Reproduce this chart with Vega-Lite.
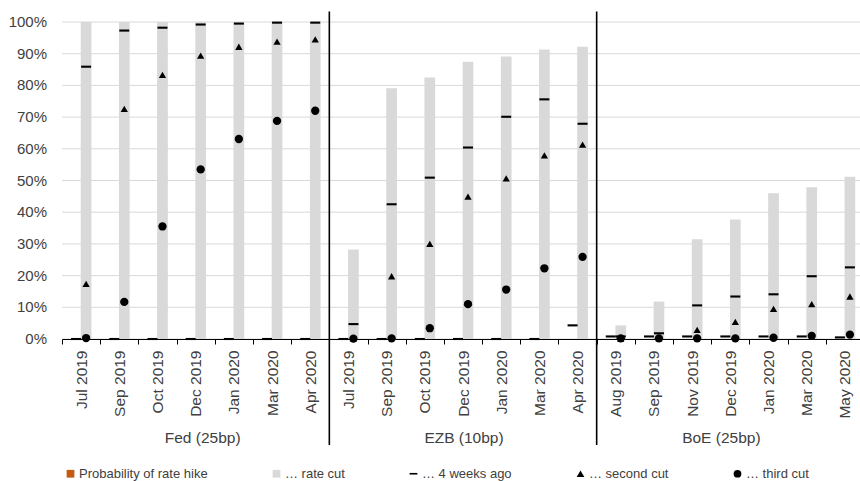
{
  "$schema": "https://vega.github.io/schema/vega-lite/v6.json",
  "autosize": {"type": "none"},
  "padding": {"left": 62, "top": 22, "right": 0, "bottom": 142},
  "width": 802,
  "height": 317,
  "config": {
    "font": "Liberation Sans",
    "view": {"stroke": null},
    "legend": {
      "orient": "none",
      "legendX": 2,
      "legendY": 445,
      "direction": "horizontal",
      "columns": 5,
      "columnPadding": 62,
      "symbolSize": 60,
      "labelFontSize": 13,
      "labelColor": "#404040",
      "labelOffset": 2,
      "symbolStrokeWidth": 0,
      "symbolOpacity": 1,
      "padding": 0
    }
  },
  "datasets": {
    "main": [
      {"k":"Fed|Jul 2019","s":"… rate cut","slot":"cut","v":1},
      {"k":"Fed|Sep 2019","s":"… rate cut","slot":"cut","v":1},
      {"k":"Fed|Oct 2019","s":"… rate cut","slot":"cut","v":1},
      {"k":"Fed|Dec 2019","s":"… rate cut","slot":"cut","v":1},
      {"k":"Fed|Jan 2020","s":"… rate cut","slot":"cut","v":1},
      {"k":"Fed|Mar 2020","s":"… rate cut","slot":"cut","v":1},
      {"k":"Fed|Apr 2020","s":"… rate cut","slot":"cut","v":1},
      {"k":"EZB|Jul 2019","s":"… rate cut","slot":"cut","v":0.282},
      {"k":"EZB|Sep 2019","s":"… rate cut","slot":"cut","v":0.791},
      {"k":"EZB|Oct 2019","s":"… rate cut","slot":"cut","v":0.825},
      {"k":"EZB|Dec 2019","s":"… rate cut","slot":"cut","v":0.875},
      {"k":"EZB|Jan 2020","s":"… rate cut","slot":"cut","v":0.891},
      {"k":"EZB|Mar 2020","s":"… rate cut","slot":"cut","v":0.913},
      {"k":"EZB|Apr 2020","s":"… rate cut","slot":"cut","v":0.922},
      {"k":"BoE|Aug 2019","s":"… rate cut","slot":"cut","v":0.043},
      {"k":"BoE|Sep 2019","s":"… rate cut","slot":"cut","v":0.118},
      {"k":"BoE|Nov 2019","s":"… rate cut","slot":"cut","v":0.315},
      {"k":"BoE|Dec 2019","s":"… rate cut","slot":"cut","v":0.377},
      {"k":"BoE|Jan 2020","s":"… rate cut","slot":"cut","v":0.46},
      {"k":"BoE|Mar 2020","s":"… rate cut","slot":"cut","v":0.479},
      {"k":"BoE|May 2020","s":"… rate cut","slot":"cut","v":0.512},

      {"k":"Fed|Jul 2019","s":"… 4 weeks ago","slot":"hike","v":0},
      {"k":"Fed|Sep 2019","s":"… 4 weeks ago","slot":"hike","v":0},
      {"k":"Fed|Oct 2019","s":"… 4 weeks ago","slot":"hike","v":0},
      {"k":"Fed|Dec 2019","s":"… 4 weeks ago","slot":"hike","v":0},
      {"k":"Fed|Jan 2020","s":"… 4 weeks ago","slot":"hike","v":0},
      {"k":"Fed|Mar 2020","s":"… 4 weeks ago","slot":"hike","v":0},
      {"k":"Fed|Apr 2020","s":"… 4 weeks ago","slot":"hike","v":0},
      {"k":"EZB|Jul 2019","s":"… 4 weeks ago","slot":"hike","v":0},
      {"k":"EZB|Sep 2019","s":"… 4 weeks ago","slot":"hike","v":0},
      {"k":"EZB|Oct 2019","s":"… 4 weeks ago","slot":"hike","v":0},
      {"k":"EZB|Dec 2019","s":"… 4 weeks ago","slot":"hike","v":0},
      {"k":"EZB|Jan 2020","s":"… 4 weeks ago","slot":"hike","v":0},
      {"k":"EZB|Mar 2020","s":"… 4 weeks ago","slot":"hike","v":0},
      {"k":"EZB|Apr 2020","s":"… 4 weeks ago","slot":"hike","v":0.043},
      {"k":"BoE|Aug 2019","s":"… 4 weeks ago","slot":"hike","v":0.008},
      {"k":"BoE|Sep 2019","s":"… 4 weeks ago","slot":"hike","v":0.008},
      {"k":"BoE|Nov 2019","s":"… 4 weeks ago","slot":"hike","v":0.008},
      {"k":"BoE|Dec 2019","s":"… 4 weeks ago","slot":"hike","v":0.008},
      {"k":"BoE|Jan 2020","s":"… 4 weeks ago","slot":"hike","v":0.008},
      {"k":"BoE|Mar 2020","s":"… 4 weeks ago","slot":"hike","v":0.008},
      {"k":"BoE|May 2020","s":"… 4 weeks ago","slot":"hike","v":0.005},

      {"k":"Fed|Jul 2019","s":"… 4 weeks ago","slot":"cut","v":0.859},
      {"k":"Fed|Sep 2019","s":"… 4 weeks ago","slot":"cut","v":0.973},
      {"k":"Fed|Oct 2019","s":"… 4 weeks ago","slot":"cut","v":0.982},
      {"k":"Fed|Dec 2019","s":"… 4 weeks ago","slot":"cut","v":0.992},
      {"k":"Fed|Jan 2020","s":"… 4 weeks ago","slot":"cut","v":0.995},
      {"k":"Fed|Mar 2020","s":"… 4 weeks ago","slot":"cut","v":0.998},
      {"k":"Fed|Apr 2020","s":"… 4 weeks ago","slot":"cut","v":0.998},
      {"k":"EZB|Jul 2019","s":"… 4 weeks ago","slot":"cut","v":0.047},
      {"k":"EZB|Sep 2019","s":"… 4 weeks ago","slot":"cut","v":0.425},
      {"k":"EZB|Oct 2019","s":"… 4 weeks ago","slot":"cut","v":0.509},
      {"k":"EZB|Dec 2019","s":"… 4 weeks ago","slot":"cut","v":0.604},
      {"k":"EZB|Jan 2020","s":"… 4 weeks ago","slot":"cut","v":0.701},
      {"k":"EZB|Mar 2020","s":"… 4 weeks ago","slot":"cut","v":0.756},
      {"k":"EZB|Apr 2020","s":"… 4 weeks ago","slot":"cut","v":0.679},
      {"k":"BoE|Aug 2019","s":"… 4 weeks ago","slot":"cut","v":0.008},
      {"k":"BoE|Sep 2019","s":"… 4 weeks ago","slot":"cut","v":0.018},
      {"k":"BoE|Nov 2019","s":"… 4 weeks ago","slot":"cut","v":0.106},
      {"k":"BoE|Dec 2019","s":"… 4 weeks ago","slot":"cut","v":0.134},
      {"k":"BoE|Jan 2020","s":"… 4 weeks ago","slot":"cut","v":0.141},
      {"k":"BoE|Mar 2020","s":"… 4 weeks ago","slot":"cut","v":0.198},
      {"k":"BoE|May 2020","s":"… 4 weeks ago","slot":"cut","v":0.226},

      {"k":"Fed|Jul 2019","s":"… second cut","slot":"cut","v":0.174},
      {"k":"Fed|Sep 2019","s":"… second cut","slot":"cut","v":0.726},
      {"k":"Fed|Oct 2019","s":"… second cut","slot":"cut","v":0.833},
      {"k":"Fed|Dec 2019","s":"… second cut","slot":"cut","v":0.894},
      {"k":"Fed|Jan 2020","s":"… second cut","slot":"cut","v":0.922},
      {"k":"Fed|Mar 2020","s":"… second cut","slot":"cut","v":0.938},
      {"k":"Fed|Apr 2020","s":"… second cut","slot":"cut","v":0.945},
      {"k":"EZB|Jul 2019","s":"… second cut","slot":"cut","v":0.002},
      {"k":"EZB|Sep 2019","s":"… second cut","slot":"cut","v":0.198},
      {"k":"EZB|Oct 2019","s":"… second cut","slot":"cut","v":0.3},
      {"k":"EZB|Dec 2019","s":"… second cut","slot":"cut","v":0.449},
      {"k":"EZB|Jan 2020","s":"… second cut","slot":"cut","v":0.507},
      {"k":"EZB|Mar 2020","s":"… second cut","slot":"cut","v":0.579},
      {"k":"EZB|Apr 2020","s":"… second cut","slot":"cut","v":0.613},
      {"k":"BoE|Aug 2019","s":"… second cut","slot":"cut","v":0.001},
      {"k":"BoE|Sep 2019","s":"… second cut","slot":"cut","v":0.003},
      {"k":"BoE|Nov 2019","s":"… second cut","slot":"cut","v":0.029},
      {"k":"BoE|Dec 2019","s":"… second cut","slot":"cut","v":0.054},
      {"k":"BoE|Jan 2020","s":"… second cut","slot":"cut","v":0.095},
      {"k":"BoE|Mar 2020","s":"… second cut","slot":"cut","v":0.11},
      {"k":"BoE|May 2020","s":"… second cut","slot":"cut","v":0.134},

      {"k":"Fed|Jul 2019","s":"… third cut","slot":"cut","v":0.003},
      {"k":"Fed|Sep 2019","s":"… third cut","slot":"cut","v":0.117},
      {"k":"Fed|Oct 2019","s":"… third cut","slot":"cut","v":0.355},
      {"k":"Fed|Dec 2019","s":"… third cut","slot":"cut","v":0.535},
      {"k":"Fed|Jan 2020","s":"… third cut","slot":"cut","v":0.631},
      {"k":"Fed|Mar 2020","s":"… third cut","slot":"cut","v":0.688},
      {"k":"Fed|Apr 2020","s":"… third cut","slot":"cut","v":0.72},
      {"k":"EZB|Jul 2019","s":"… third cut","slot":"cut","v":0.001},
      {"k":"EZB|Sep 2019","s":"… third cut","slot":"cut","v":0.002},
      {"k":"EZB|Oct 2019","s":"… third cut","slot":"cut","v":0.034},
      {"k":"EZB|Dec 2019","s":"… third cut","slot":"cut","v":0.11},
      {"k":"EZB|Jan 2020","s":"… third cut","slot":"cut","v":0.156},
      {"k":"EZB|Mar 2020","s":"… third cut","slot":"cut","v":0.223},
      {"k":"EZB|Apr 2020","s":"… third cut","slot":"cut","v":0.259},
      {"k":"BoE|Aug 2019","s":"… third cut","slot":"cut","v":0.002},
      {"k":"BoE|Sep 2019","s":"… third cut","slot":"cut","v":0.002},
      {"k":"BoE|Nov 2019","s":"… third cut","slot":"cut","v":0.002},
      {"k":"BoE|Dec 2019","s":"… third cut","slot":"cut","v":0.002},
      {"k":"BoE|Jan 2020","s":"… third cut","slot":"cut","v":0.004},
      {"k":"BoE|Mar 2020","s":"… third cut","slot":"cut","v":0.01},
      {"k":"BoE|May 2020","s":"… third cut","slot":"cut","v":0.014}
    ],
    "separators": [
      {"k":"EZB|Jul 2019"},
      {"k":"BoE|Aug 2019"}
    ],
    "ygrid": [
      {"k":"Fed|Jul 2019","g":0},
      {"k":"Fed|Jul 2019","g":0.1},
      {"k":"Fed|Jul 2019","g":0.2},
      {"k":"Fed|Jul 2019","g":0.3},
      {"k":"Fed|Jul 2019","g":0.4},
      {"k":"Fed|Jul 2019","g":0.5},
      {"k":"Fed|Jul 2019","g":0.6},
      {"k":"Fed|Jul 2019","g":0.7},
      {"k":"Fed|Jul 2019","g":0.8},
      {"k":"Fed|Jul 2019","g":0.9},
      {"k":"Fed|Jul 2019","g":1}
    ]
  },
  "encoding": {
    "x": {
      "field": "k",
      "type": "nominal",
      "scale": {
        "domain": ["Fed|Jul 2019","Fed|Sep 2019","Fed|Oct 2019","Fed|Dec 2019","Fed|Jan 2020","Fed|Mar 2020","Fed|Apr 2020","EZB|Jul 2019","EZB|Sep 2019","EZB|Oct 2019","EZB|Dec 2019","EZB|Jan 2020","EZB|Mar 2020","EZB|Apr 2020","BoE|Aug 2019","BoE|Sep 2019","BoE|Nov 2019","BoE|Dec 2019","BoE|Jan 2020","BoE|Mar 2020","BoE|May 2020"],
        "paddingInner": 0,
        "paddingOuter": 0
      },
      "axis": {
        "title": null,
        "labelExpr": "split(datum.label, '|')[1]",
        "labelAngle": 270,
        "labelAlign": "right",
        "labelBaseline": "middle",
        "labelFontSize": 15.5,
        "labelColor": "#404040",
        "labelPadding": 6,
        "labelOverlap": false,
        "tickBand": "extent",
        "tickSize": 5,
        "tickColor": "#000000",
        "domainColor": "#000000",
        "domainWidth": 1,
        "grid": false,
        "zindex": 1
      }
    }
  },
  "layer": [
    {
      "data": {"name": "ygrid"},
      "mark": {"type": "rule", "color": "#d9d9d9", "strokeWidth": 1},
      "encoding": {
        "x": null,
        "y": {"field": "g", "type": "quantitative", "scale": {"domain": [0, 1]}, "axis": null}
      }
    },
    {
      "data": {"name": "ygrid"},
      "mark": {"type": "text", "align": "right", "baseline": "middle", "dx": -15, "fontSize": 15, "color": "#404040"},
      "encoding": {
        "x": {"field": "k", "type": "nominal", "bandPosition": 0},
        "y": {"field": "g", "type": "quantitative", "axis": null},
        "text": {"field": "g", "type": "quantitative", "format": ".0%"}
      }
    },
    {
      "data": {"name": "main"},
      "transform": [{"filter": "datum.s === '… rate cut'"}],
      "mark": {"type": "bar", "width": 10.7, "color": "#d9d9d9"},
      "encoding": {
        "xOffset": {"field": "slot", "type": "nominal", "scale": {"domain": ["hike","cut"], "paddingInner": 0, "paddingOuter": 0.91}},
        "y": {"field": "v", "type": "quantitative", "scale": {"domain": [0, 1]}, "axis": null}
      }
    },
    {
      "data": {"name": "main"},
      "transform": [{"filter": "datum.s === '… 4 weeks ago'"}],
      "mark": {"type": "point", "filled": true, "opacity": 1, "size": 100, "strokeWidth": 0},
      "encoding": {
        "xOffset": {"field": "slot", "type": "nominal", "scale": {"domain": ["hike","cut"], "paddingInner": 0, "paddingOuter": 0.91}},
        "y": {"field": "v", "type": "quantitative", "axis": null},
        "color": {
          "field": "s",
          "type": "nominal",
          "title": null,
          "scale": {"domain": ["Probability of rate hike","… rate cut","… 4 weeks ago","… second cut","… third cut"], "range": ["#c55a11","#d9d9d9","#000000","#000000","#000000"]}
        },
        "shape": {
          "field": "s",
          "type": "nominal",
          "title": null,
          "scale": {"domain": ["Probability of rate hike","… rate cut","… 4 weeks ago","… second cut","… third cut"], "range": ["square","square","M-1,-0.21H1V0.21H-1Z","triangle-up","circle"]}
        }
      }
    },
    {
      "data": {"name": "main"},
      "transform": [{"filter": "datum.s === '… second cut'"}],
      "mark": {"type": "point", "filled": true, "opacity": 1, "size": 53, "strokeWidth": 0},
      "encoding": {
        "xOffset": {"field": "slot", "type": "nominal", "scale": {"domain": ["hike","cut"], "paddingInner": 0, "paddingOuter": 0.91}},
        "y": {"field": "v", "type": "quantitative", "axis": null},
        "color": {
          "field": "s",
          "type": "nominal",
          "title": null,
          "scale": {"domain": ["Probability of rate hike","… rate cut","… 4 weeks ago","… second cut","… third cut"], "range": ["#c55a11","#d9d9d9","#000000","#000000","#000000"]}
        },
        "shape": {
          "field": "s",
          "type": "nominal",
          "title": null,
          "scale": {"domain": ["Probability of rate hike","… rate cut","… 4 weeks ago","… second cut","… third cut"], "range": ["square","square","M-1,-0.21H1V0.21H-1Z","triangle-up","circle"]}
        }
      }
    },
    {
      "data": {"name": "main"},
      "transform": [{"filter": "datum.s === '… third cut'"}],
      "mark": {"type": "point", "filled": true, "opacity": 1, "size": 69, "strokeWidth": 0},
      "encoding": {
        "xOffset": {"field": "slot", "type": "nominal", "scale": {"domain": ["hike","cut"], "paddingInner": 0, "paddingOuter": 0.91}},
        "y": {"field": "v", "type": "quantitative", "axis": null},
        "color": {
          "field": "s",
          "type": "nominal",
          "title": null,
          "scale": {"domain": ["Probability of rate hike","… rate cut","… 4 weeks ago","… second cut","… third cut"], "range": ["#c55a11","#d9d9d9","#000000","#000000","#000000"]}
        },
        "shape": {
          "field": "s",
          "type": "nominal",
          "title": null,
          "scale": {"domain": ["Probability of rate hike","… rate cut","… 4 weeks ago","… second cut","… third cut"], "range": ["square","square","M-1,-0.21H1V0.21H-1Z","triangle-up","circle"]}
        }
      }
    },
    {
      "data": {"name": "separators"},
      "mark": {"type": "rule", "color": "#000000", "strokeWidth": 1.6},
      "encoding": {
        "x": {"field": "k", "type": "nominal", "bandPosition": 0},
        "y": {"datum": 1.033, "type": "quantitative", "axis": null},
        "y2": {"datum": -0.334}
      }
    },
    {
      "data": {"values": [{"k":"Fed|Dec 2019","label":"Fed (25bp)"}]},
      "mark": {"type": "text", "fontSize": 15.5, "color": "#404040", "baseline": "middle", "align": "center", "dx": 7},
      "encoding": {
        "y": {"datum": -0.311, "type": "quantitative", "axis": null},
        "text": {"field": "label"}
      }
    },
    {
      "data": {"values": [{"k":"EZB|Dec 2019","label":"EZB (10bp)"}]},
      "mark": {"type": "text", "fontSize": 15.5, "color": "#404040", "baseline": "middle", "align": "center", "dx": 1},
      "encoding": {
        "y": {"datum": -0.311, "type": "quantitative", "axis": null},
        "text": {"field": "label"}
      }
    },
    {
      "data": {"values": [{"k":"BoE|Dec 2019","label":"BoE (25bp)"}]},
      "mark": {"type": "text", "fontSize": 15.5, "color": "#404040", "baseline": "middle", "align": "center", "dx": -9},
      "encoding": {
        "y": {"datum": -0.311, "type": "quantitative", "axis": null},
        "text": {"field": "label"}
      }
    }
  ]
}
